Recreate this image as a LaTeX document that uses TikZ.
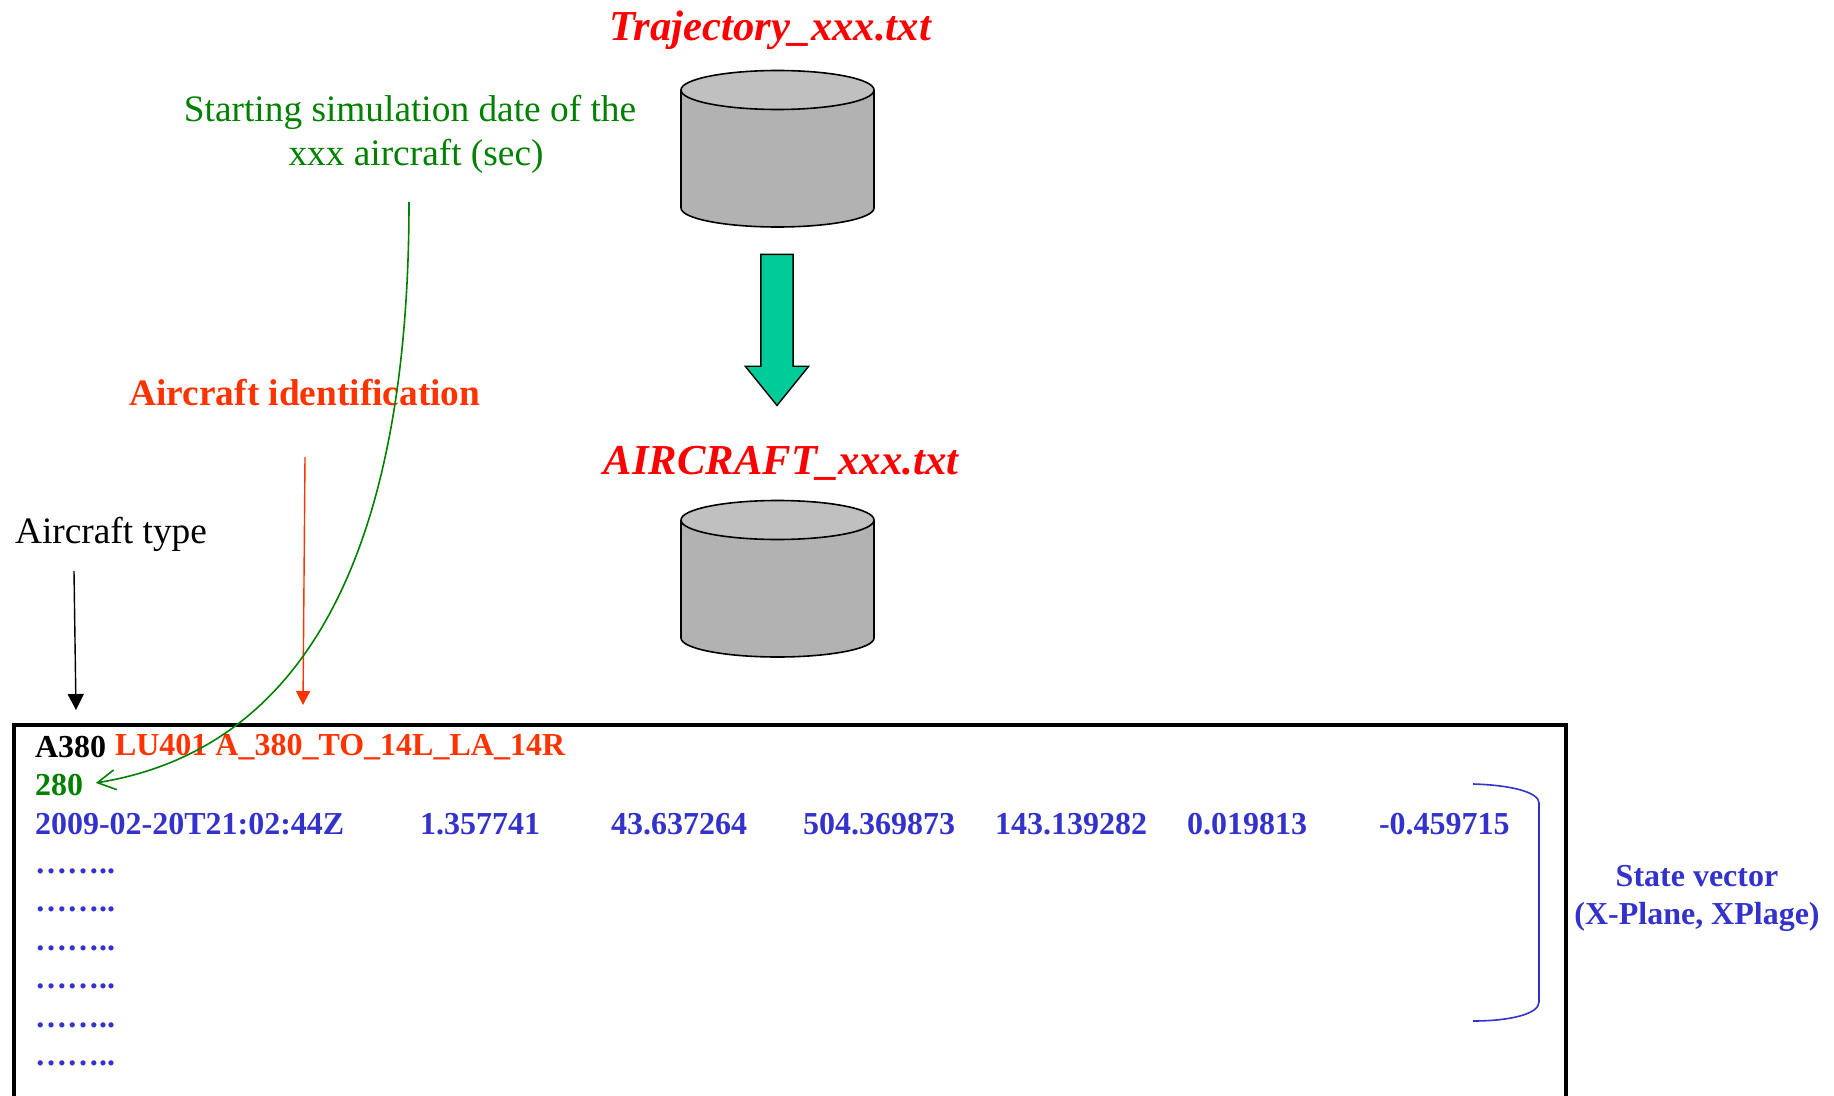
\documentclass[tikz,border=0pt]{standalone}
\usepackage{fontspec}
\setmainfont{Liberation Serif}
\usetikzlibrary{shapes.arrows,arrows.meta}
\definecolor{idorange}{HTML}{FF3300}
\definecolor{datagreen}{HTML}{008000}
\definecolor{vecblue}{HTML}{3333CC}
\definecolor{flowteal}{HTML}{00CC99}
\definecolor{dbside}{HTML}{B2B2B2}
\definecolor{dbtop}{HTML}{C0C0C0}
\tikzset{
  every node/.style={inner sep=0pt,outer sep=0pt},
  pics/database/.style={code={
    \draw[fill=dbside,line width=0.8pt] (-96.5,0) -- (-96.5,118)
      arc[start angle=180,end angle=360,x radius=48.25pt,y radius=9.5pt] -- (96.5,0);
    \draw[fill=dbtop,line width=0.8pt] (0,0) ellipse[x radius=48.25pt,y radius=9.75pt];
  }},
  filename/.style={font=\fontsize{21.33}{24}\selectfont\bfseries\itshape,text=red},
  rowtext/.style={font=\fontsize{16}{19}\selectfont\bfseries,text=vecblue,anchor=west},
  bigtext/.style={font=\fontsize{18.67}{22}\selectfont},
}
\begin{document}
\begin{tikzpicture}[x=0.5pt,y=-0.5pt]
  \path[use as bounding box] (0,0) rectangle (1834,1096);
  \node[filename] (trajname) at (770,30) {Trajectory\_xxx.txt};
  \node[filename] (acname) at (781,463) {AIRCRAFT\_xxx.txt};
  \pic (trajdb) at (777.5,90) {database};
  \pic (acdb) at (777.5,520) {database};
  \node[single arrow,shape border rotate=270,draw=black,fill=flowteal,line width=0.7pt,
    inner sep=7.7pt,minimum height=75.5pt,single arrow head extend=7.8pt,
    single arrow head indent=0pt,single arrow tip angle=78] (flow) at (777,320) {};

  \node[text=datagreen,bigtext,align=center] (startlabel) at (410,134.5)
    {Starting simulation date of the\\\hspace*{6pt}xxx aircraft (sec)};
  \node[text=idorange,bigtext,font=\fontsize{18.67}{22}\selectfont\bfseries] (idlabel) at (305,393) {Aircraft identification};
  \node[bigtext] (typelabel) at (111,534.5) {Aircraft type};

  \coordinate (starttail) at (409,202);
  \coordinate (idtail) at (305,457);
  \coordinate (idhead) at (303,705);
  \coordinate (typetail) at (74,571);
  \coordinate (typehead) at (76,710);

  \draw[line width=2pt] (14,1096) -- (14,725) -- (1566,725) -- (1566,1096);

  \node[rowtext,text=black] (actype) at (35,747.5) {A380};
  \node[rowtext,text=idorange] (acid) at (115,747.5) {LU401 A\_380\_TO\_14L\_LA\_14R};
  \node[rowtext,text=datagreen] (startval) at (35,785) {280};
  \node[rowtext] (date) at (35,824) {2009-02-20T21:02:44Z};
  \node[rowtext] (lon) at (420,824) {1.357741};
  \node[rowtext] (lat) at (611,824) {43.637264};
  \node[rowtext] (alt) at (803,824) {504.369873};
  \node[rowtext] (hdg) at (995,824) {143.139282};
  \node[rowtext] (pitch) at (1187,824) {0.019813};
  \node[rowtext] (roll) at (1379,824) {-0.459715};
  \node[rowtext] (dotsa) at (35,871) {……..};
  \node[rowtext] (dotsb) at (35,909) {……..};
  \node[rowtext] (dotsc) at (35,948) {……..};
  \node[rowtext] (dotsd) at (35,986) {……..};
  \node[rowtext] (dotse) at (35,1025) {……..};
  \node[rowtext] (dotsf) at (35,1063) {……..};

  \draw[-{Triangle[length=8pt,width=8pt]},line width=0.7pt] (typetail) -- (typehead);
  \draw[-{Triangle[length=7pt,width=7pt]},idorange,line width=0.7pt] (idtail) -- (idhead);
  \draw[-{Straight Barb[length=9pt,width=10pt]},datagreen,line width=0.8pt,shorten >=6.5pt] (starttail)
    .. controls (409,560) and (300,750) .. (startval.east);

  \coordinate (bracetop) at (1473,784);
  \coordinate (bracebot) at (1473,1021);
  \draw[vecblue,line width=0.8pt] (bracetop) .. controls (1510,785) and (1539,792) .. (1539,803)
    -- (1539,1002) .. controls (1539,1014) and (1510,1021) .. (bracebot);
  \node[text=vecblue,font=\fontsize{16}{19}\selectfont\bfseries,align=center] (veclabel) at (1697,898.5)
    {State vector\\(X-Plane, XPlage)};
\end{tikzpicture}
\end{document}
